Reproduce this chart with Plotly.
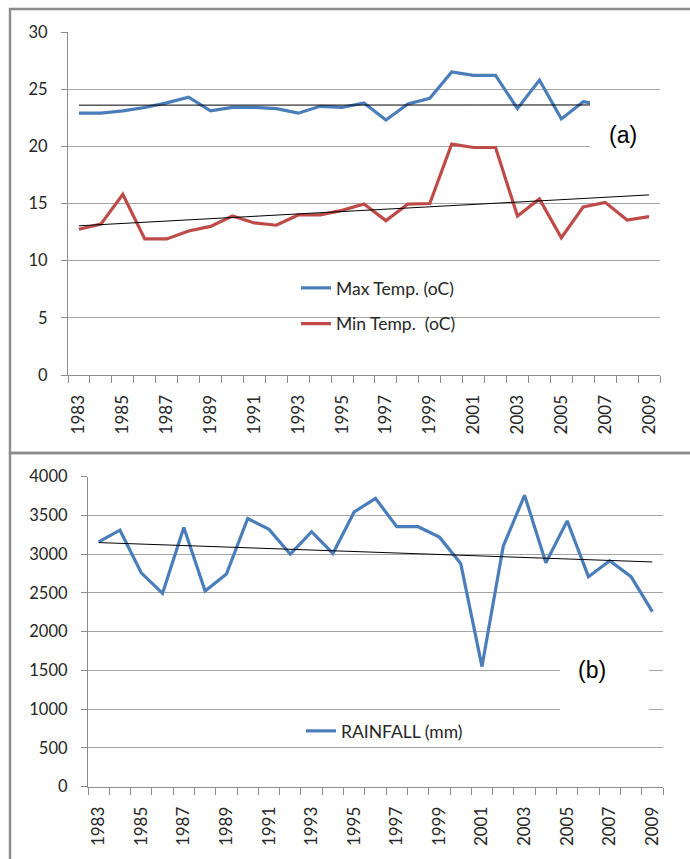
import plotly.graph_objects as go

W, H = 690, 859

years = list(range(1983, 2010))
max_temp = [22.9, 22.9, 23.1, 23.4, 23.8, 24.3, 23.1, 23.4, 23.4, 23.3, 22.9, 23.5, 23.4,
            23.8, 22.3, 23.7, 24.2, 26.5, 26.2, 26.2, 23.3, 25.8, 22.4, 23.9, 23.6, None, None]
min_temp = [12.75, 13.2, 15.8, 11.9, 11.9, 12.6, 13.0, 13.9, 13.3, 13.1, 14.0, 14.0, 14.4,
            14.95, 13.5, 14.95, 15.0, 20.2, 19.9, 19.9, 13.9, 15.4, 12.0, 14.7, 15.1, 13.55, 13.85]
rainfall = [3160, 3310, 2760, 2495, 3345, 2525, 2745, 3460, 3320, 3000, 3290, 3010, 3545,
            3720, 3355, 3355, 3220, 2880, 1550, 3105, 3760, 2890, 3430, 2710, 2915, 2710, 2260]

trend_years = [1983, 2009]
max_trend = [23.6, 23.62]
min_trend = [13.05, 15.75]
rain_trend = [3150, 2900]

tick_years = list(range(1983, 2010, 2))
temp_ticks = [0, 5, 10, 15, 20, 25, 30]
rain_ticks = [0, 500, 1000, 1500, 2000, 2500, 3000, 3500, 4000]

BLUE = "#4A7EBB"
RED = "#BE4B48"
GRID = "#A6A6A6"
BORDER = "#8C8C8C"
FONT = "Lato, 'Open Sans', sans-serif"
TXT = "#262626"
NARROW = "'Liberation Sans Narrow', 'Arial Narrow', sans-serif"


def px(x):
    return x / W


def py(y):
    return 1 - y / H


fig = go.Figure()

fig.add_trace(go.Scatter(x=years, y=max_temp, mode="lines", name="Max Temp. (oC)",
                         line=dict(color=BLUE, width=3.2), xaxis="x", yaxis="y",
                         legend="legend", legendgroup="a"))
fig.add_trace(go.Scatter(x=years, y=min_temp, mode="lines", name="Min Temp.  (oC)",
                         line=dict(color=RED, width=3.2), xaxis="x", yaxis="y",
                         legend="legend", legendgroup="b"))
fig.add_trace(go.Scatter(x=trend_years, y=max_trend, mode="lines", showlegend=False,
                         line=dict(color="black", width=1), xaxis="x", yaxis="y"))
fig.add_trace(go.Scatter(x=trend_years, y=min_trend, mode="lines", showlegend=False,
                         line=dict(color="black", width=1), xaxis="x", yaxis="y"))

fig.add_trace(go.Scatter(x=years, y=rainfall, mode="lines", name="RAINFALL (mm)",
                         line=dict(color=BLUE, width=3.2), xaxis="x2", yaxis="y2",
                         legend="legend2"))
fig.add_trace(go.Scatter(x=trend_years, y=rain_trend, mode="lines", showlegend=False,
                         line=dict(color="black", width=1), xaxis="x2", yaxis="y2"))

xcommon = dict(range=[1982.5, 2009.5], tickmode="array", tickvals=tick_years,
               ticktext=[str(t) for t in tick_years], tickangle=-90, ticks="",
               showgrid=False, showline=True, linecolor=BORDER, linewidth=1.3,
               tickfont=dict(family=FONT, size=17, color=TXT), zeroline=False,
               automargin=False, ticklabelstandoff=12,
               minor=dict(tickmode="linear", tick0=1982.5, dtick=1, ticks="outside",
                          ticklen=7, tickcolor=BORDER, tickwidth=1.3, showgrid=False))
ycommon = dict(showgrid=True, gridcolor=GRID, gridwidth=1.3, showline=True,
               linecolor=BORDER, linewidth=1.3, ticks="outside", ticklen=6,
               tickcolor=BORDER, tickwidth=1.3, zeroline=False, automargin=False,
               tickfont=dict(family=FONT, size=16.5, color=TXT), ticklabelstandoff=10)

fig.update_layout(
    width=W, height=H, margin=dict(l=0, r=0, t=0, b=0, pad=0, autoexpand=False),
    paper_bgcolor="white", plot_bgcolor="white",
    xaxis=dict(domain=[px(68), px(660)], anchor="y", **xcommon),
    yaxis=dict(domain=[py(375), py(32)], range=[0, 30], tickvals=temp_ticks,
               anchor="x", **ycommon),
    xaxis2=dict(domain=[px(88), px(663)], anchor="y2", **xcommon),
    yaxis2=dict(domain=[py(786.7), py(476.7)], range=[0, 4000], tickvals=rain_ticks,
                anchor="x2", **ycommon),
    legend=dict(x=px(296), y=py(270), xanchor="left", yanchor="top",
                bgcolor="rgba(0,0,0,0)", font=dict(family=FONT, size=17.5, color=TXT),
                tracegroupgap=10, traceorder="grouped"),
    legend2=dict(x=px(301), y=py(713), xanchor="left", yanchor="top",
                 bgcolor="rgba(0,0,0,0)", font=dict(family=FONT, size=17.5, color=TXT)),
    shapes=[
        dict(type="rect", xref="paper", yref="paper", x0=px(590), x1=px(668),
             y0=py(170), y1=py(100), fillcolor="white", line=dict(width=0), layer="above"),
        dict(type="rect", xref="paper", yref="paper", x0=px(560), x1=px(649),
             y0=py(735), y1=py(645), fillcolor="white", line=dict(width=0), layer="above"),
        # panel frames (right/bottom edges fall outside the visible page)
        dict(type="rect", xref="paper", yref="paper", x0=px(10), x1=px(710),
             y0=py(453), y1=py(9), fillcolor="rgba(0,0,0,0)",
             line=dict(color=BORDER, width=2.4), layer="above"),
        dict(type="rect", xref="paper", yref="paper", x0=px(10), x1=px(710),
             y0=py(880), y1=py(453), fillcolor="rgba(0,0,0,0)",
             line=dict(color=BORDER, width=2.4), layer="above"),
    ],
    annotations=[
        dict(text="(a)", xref="paper", yref="paper", x=px(623), y=py(135), showarrow=False,
             xanchor="center", yanchor="middle",
             font=dict(family=NARROW, size=23, color="black")),
        dict(text="(b)", xref="paper", yref="paper", x=px(592), y=py(670), showarrow=False,
             xanchor="center", yanchor="middle",
             font=dict(family=NARROW, size=23, color="black")),
    ],
)

fig.write_html("out.html", config={"displayModeBar": False},
               post_script="document.body.style.margin='0px';")
